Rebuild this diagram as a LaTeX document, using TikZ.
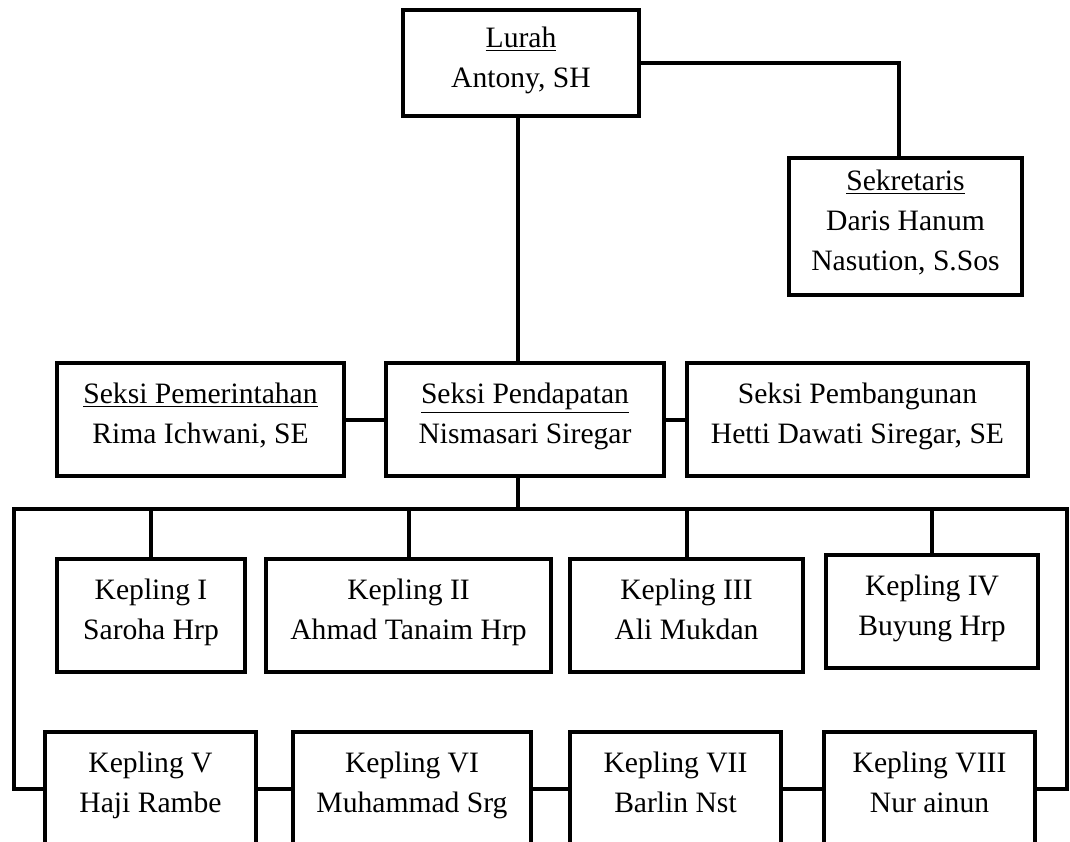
\documentclass[tikz,border=0pt]{standalone}
\usepackage{fontspec}
\setmainfont{Liberation Serif}
\tikzset{
  box/.style={draw, line width=2pt, inner sep=0pt, align=center, fill=white,
    font=\fontsize{14.8}{20}\selectfont,
    execute at begin node=\strut, execute at end node=\strut},
  link/.style={line width=2pt},
}
\begin{document}
\begin{tikzpicture}[x=0.5pt, y=-0.5pt]
    \clip (0,0) rectangle (1070,841);
    % pimpinan
    \node [box, minimum width=118pt, minimum height=53pt] (lurah) at (521,63) {\underline{Lurah}\\Antony, SH};
    \node [box, minimum width=116.5pt, minimum height=68.5pt] (sek) at (905.5,226.5) {\underline{Sekretaris}\\Daris Hanum\\Nasution, S.Sos};
    % seksi
    \node [box, minimum width=143.5pt, minimum height=56.5pt] (pem) at (200.5,419.5) {\underline{Seksi Pemerintahan}\\Rima Ichwani, SE};
    \node [box, minimum width=139pt, minimum height=56.5pt] (pend) at (525,419.5) {\underline{Seksi Pendapatan}\\Nismasari Siregar};
    \node [box, minimum width=170.5pt, minimum height=56.5pt] (pemb) at (857.5,419.5) {Seksi Pembangunan\\Hetti Dawati Siregar, SE};
    % kepling
    \node [box, minimum width=94pt, minimum height=56.5pt] (k1) at (151,615.5) {Kepling I\\Saroha Hrp};
    \node [box, minimum width=142.5pt, minimum height=56.5pt] (k2) at (408.5,615.5) {Kepling II\\Ahmad Tanaim Hrp};
    \node [box, minimum width=116.5pt, minimum height=56.5pt] (k3) at (686.5,615.5) {Kepling III\\Ali Mukdan};
    \node [box, minimum width=106pt, minimum height=56.5pt] (k4) at (932,611) {Kepling IV\\Buyung Hrp};
    \node [box, minimum width=105.5pt, minimum height=56.5pt] (k5) at (150.5,788.5) {Kepling V\\Haji Rambe};
    \node [box, minimum width=119pt, minimum height=56.5pt] (k6) at (412,788.5) {Kepling VI\\Muhammad Srg};
    \node [box, minimum width=105.5pt, minimum height=56.5pt] (k7) at (675.5,788.5) {Kepling VII\\Barlin Nst};
    \node [box, minimum width=105.5pt, minimum height=56.5pt] (k8) at (929.5,788.5) {Kepling VIII\\Nur ainun};
    \coordinate (busL) at (14,509);
    \coordinate (busR) at (1067,509);
    % garis
    \draw [link] (lurah.east) -| ([xshift=-3.5pt]sek.north);
    \draw [link] ([xshift=-1.5pt]lurah.south) -- ([xshift=-1.5pt]lurah.south |- pend.north);
    \draw [link] (pem) -- (pend);
    \draw [link] (pend) -- (pemb);
    \draw [link] ([xshift=-1.5pt]lurah.south |- pend.south) -- ([xshift=-1.5pt]lurah.south |- busL);
    \draw [link] (k5.west) -| (busL) -- (busR) |- (k8.east);
    \foreach \k in {k1,k2,k3,k4}
        \draw [link] (\k.north) -- (\k.north |- busL);
    \draw [link] (k5) -- (k6);
    \draw [link] (k6) -- (k7);
    \draw [link] (k7) -- (k8);
\end{tikzpicture}
\end{document}
